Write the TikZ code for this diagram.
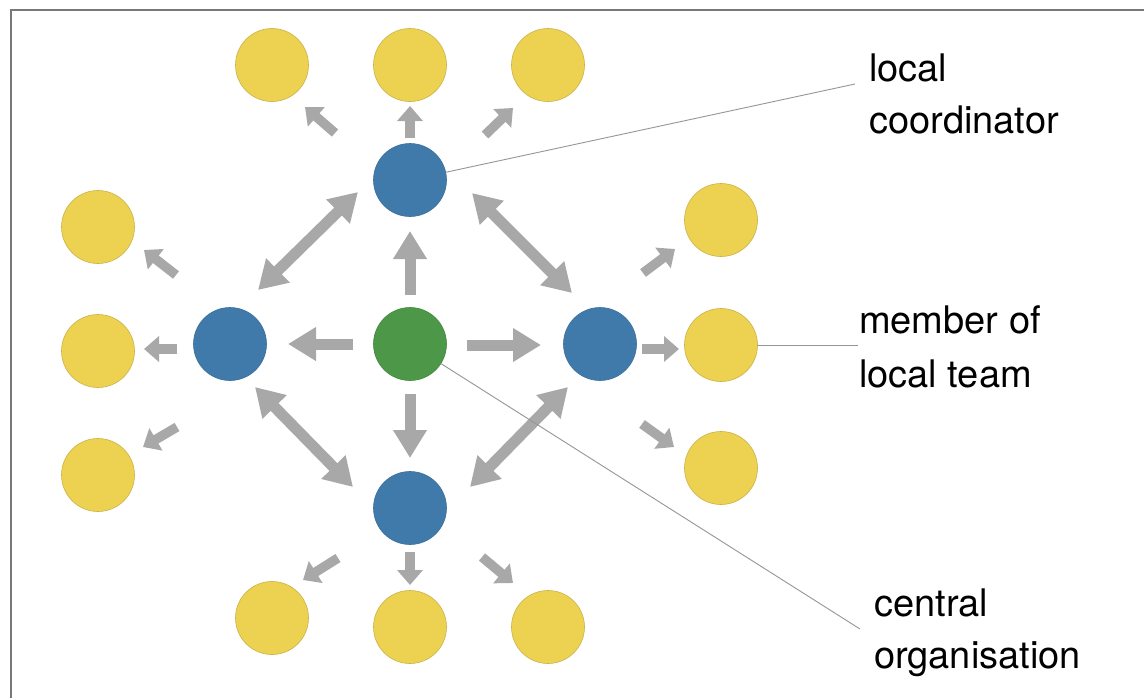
\documentclass[tikz,border=0pt]{standalone}
\usepackage{fontspec}
\setmainfont{TeX Gyre Heros}
\usetikzlibrary{arrows.meta,calc}
\definecolor{ylw}{RGB}{237,210,82}
\definecolor{blu}{RGB}{64,122,170}
\definecolor{grn}{RGB}{76,151,72}
\definecolor{arr}{RGB}{168,168,168}
\definecolor{lead}{RGB}{150,150,150}
\definecolor{framecol}{RGB}{120,120,120}
\begin{document}
\begin{tikzpicture}[x=1pt,y=-1pt,
 dot/.style={circle,minimum size=73pt,inner sep=0pt,outer sep=0pt,line width=0.6pt},
 member/.style={dot,fill=ylw,draw=ylw!85!black},
 coordr/.style={dot,fill=blu,draw=blu!90!black},
 centralorg/.style={dot,fill=grn,draw=grn!90!black},
 bigarrow/.style={draw=arr,line width=11pt,-{Triangle[width=32pt,length=28pt]}},
 duoarrow/.style={draw=arr,line width=11pt,{Triangle[width=32pt,length=28pt]}-{Triangle[width=32pt,length=28pt]}},
 smallarrow/.style={draw=arr,line width=9.5pt,-{Triangle[width=25pt,length=15pt]}},
 leader/.style={draw=lead,line width=0.9pt},
 lbl/.style={anchor=base west,font=\fontsize{38}{52}\selectfont,inner sep=0pt}]
\fill[white] (0,0) rectangle (1144,697);
\useasboundingbox (0,0) rectangle (1144,697);
\draw[framecol,line width=2pt] (11,698) -- (11,10) -- (1145,10);

% nodes
\node[coordr] (tb) at (410,180) {};
\node[coordr] (lb) at (230,344) {};
\node[centralorg] (g) at (410,344) {};
\node[coordr] (rb) at (600,344) {};
\node[coordr] (bb) at (410,508) {};
\node[member] (yt1) at (272,65) {};
\node[member] (yt2) at (410,65) {};
\node[member] (yt3) at (548,65) {};
\node[member] (yl1) at (98,227) {};
\node[member] (yl2) at (98,351) {};
\node[member] (yl3) at (98,475) {};
\node[member] (yr1) at (721,220) {};
\node[member] (yr2) at (721,345) {};
\node[member] (yr3) at (721,468) {};
\node[member] (yb1) at (272,618) {};
\node[member] (yb2) at (410,627) {};
\node[member] (yb3) at (548,627) {};

% big arrows from the centre
\draw[bigarrow] ($(g)+(0,-49)$) -- ($(tb)+(0,51)$);
\draw[bigarrow] ($(g)+(0,50)$) -- ($(bb)+(0,-50)$);
\draw[bigarrow] ($(g)+(-57,0)$) -- ($(lb)+(58,0)$);
\draw[bigarrow] ($(g)+(57,1)$) -- ($(rb)+(-59,1)$);

% double arrows between coordinators
\draw[duoarrow] ($(tb)+(-52,12)$) -- ($(lb)+(28,-54)$);
\draw[duoarrow] ($(tb)+(62,13)$) -- ($(rb)+(-28,-51)$);
\draw[duoarrow] ($(lb)+(25,43)$) -- ($(bb)+(-57,-21)$);
\draw[duoarrow] ($(rb)+(-32,43)$) -- ($(bb)+(60,-21)$);

% small arrows to members
\draw[smallarrow] ($(tb)+(-75,-47)$) -- ($(yt1)+(33,42)$);
\draw[smallarrow] ($(tb)+(0,-42)$) -- ($(yt2)+(0,41)$);
\draw[smallarrow] ($(tb)+(75,-45)$) -- ($(yt3)+(-35,43)$);
\draw[smallarrow] ($(lb)+(-54,-69)$) -- ($(yl1)+(46,23)$);
\draw[smallarrow] ($(lb)+(-53,5)$) -- ($(yl2)+(46,-2)$);
\draw[smallarrow] ($(lb)+(-53,83)$) -- ($(yl3)+(45,-28)$);
\draw[smallarrow] ($(rb)+(43,-71)$) -- ($(yr1)+(-46,29)$);
\draw[smallarrow] ($(rb)+(42,5)$) -- ($(yr2)+(-42,4)$);
\draw[smallarrow] ($(rb)+(42,80)$) -- ($(yr3)+(-47,-21)$);
\draw[smallarrow] ($(bb)+(-72,50)$) -- ($(yb1)+(31,-38)$);
\draw[smallarrow] ($(bb)+(0,44)$) -- ($(yb2)+(0,-42)$);
\draw[smallarrow] ($(bb)+(72,49)$) -- ($(yb3)+(-35,-44)$);

% labels
\node[lbl] (l1a) at (869,81) {local};
\node[lbl] (l1b) at (869,133) {coordinator};
\node[lbl] (l2a) at (859,333) {member of};
\node[lbl] (l2b) at (859,387) {local team};
\node[lbl] (l3a) at (874,616) {central};
\node[lbl] (l3b) at (874,668) {organisation};

% leader lines
\coordinate (c1) at (855,84);
\coordinate (c2) at (858,345);
\coordinate (c3) at (860,629);
\draw[leader] (tb) -- (c1);
\draw[leader] (yr2) -- (c2);
\draw[leader] (g) -- (c3);
\end{tikzpicture}
\end{document}
